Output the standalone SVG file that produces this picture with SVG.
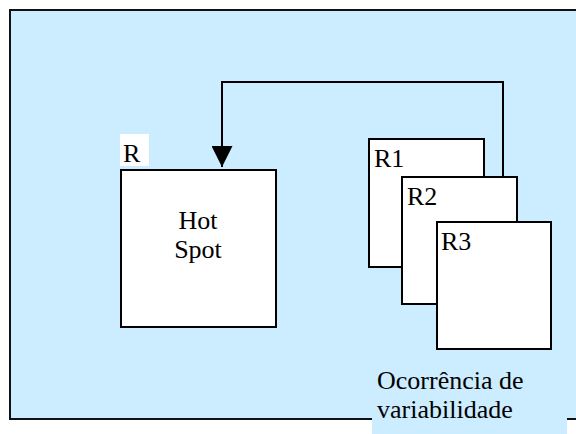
<svg xmlns="http://www.w3.org/2000/svg" width="576" height="434" viewBox="0 0 576 434">
<defs>
<style>
.frame{fill:#CCECFF;stroke:#111;stroke-width:2}
.box{fill:#fff;stroke:#000;stroke-width:2}
.conn{fill:none;stroke:#000;stroke-width:2}
</style>
<marker id="arr" viewBox="0 0 10 10" refX="10" refY="5" markerWidth="10.5" markerHeight="10.5" markerUnits="strokeWidth" orient="auto">
<path d="M0,0 L10,5 L0,10 Z" fill="#000"/>
</marker>
</defs>
<rect width="576" height="434" fill="#fff"/>
<rect class="frame" x="10" y="10" width="580" height="409"/>
<g font-family="'Liberation Serif', 'Times New Roman', serif" font-size="26" fill="#000">
<g id="hotspot">
<rect class="box" x="121" y="170" width="155" height="157"/>
<text x="198" y="229" text-anchor="middle">Hot</text>
<text x="198" y="258" text-anchor="middle">Spot</text>
</g>
<g id="label-R">
<rect x="120" y="134" width="29" height="32" fill="#fff"/>
<text x="123" y="162">R</text>
</g>
<g id="R1">
<rect class="box" x="369" y="139" width="115" height="128"/>
<text x="374" y="167">R1</text>
</g>
<g id="R2">
<rect class="box" x="402" y="177" width="115" height="127"/>
<text x="407" y="205">R2</text>
</g>
<g id="R3">
<rect class="box" x="437" y="222" width="114" height="127"/>
<text x="441" y="250">R3</text>
</g>
<g id="connectors">
<path class="conn" d="M503,176 V82 H222 V167" marker-end="url(#arr)"/>
</g>
<g id="label-variabilidade">
<rect x="372" y="362" width="195" height="72" fill="#CCECFF"/>
<text x="377" y="389">Ocorrência de</text>
<text x="377" y="418">variabilidade</text>
</g>
</g>
</svg>
